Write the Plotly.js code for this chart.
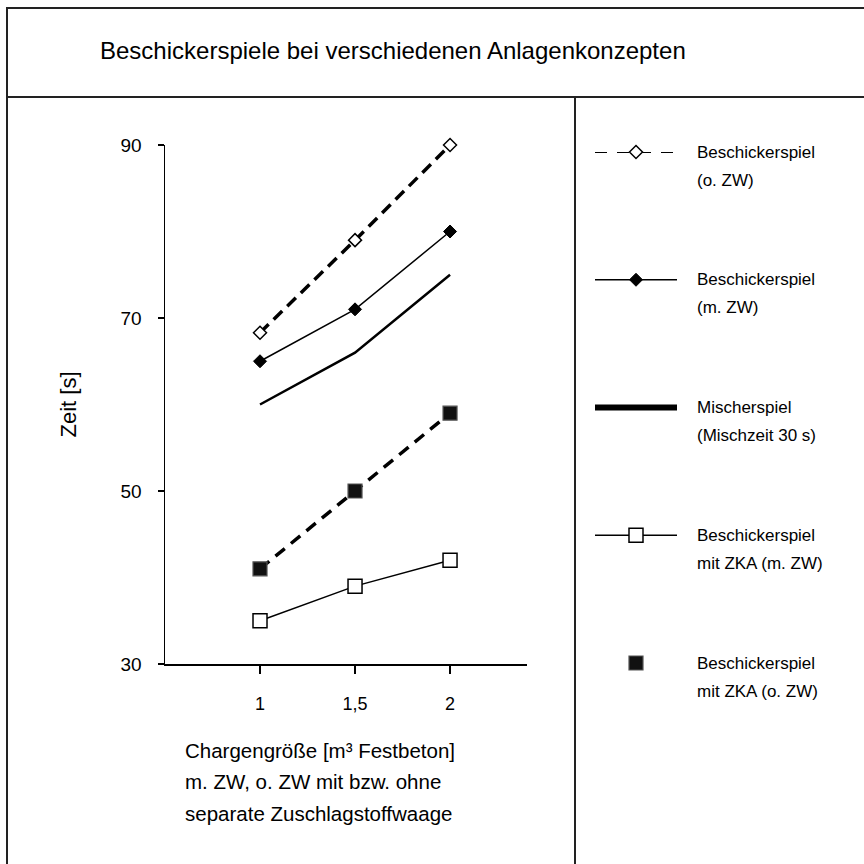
<!DOCTYPE html>
<html>
<head>
<meta charset="utf-8">
<script src="https://cdn.plot.ly/plotly-3.0.1.min.js"></script>
<style>html,body{margin:0;padding:0;background:#fff;}#chart{width:864px;height:864px;}</style>
</head>
<body>
<div id="chart"></div>
<script>
// ---- data ----
const xValues = [1, 1.5, 2];
const xTickText = ['1', '1,5', '2'];
const yTickValues = [30, 50, 70, 90];

const beschickerOhneZW = [68.3, 79, 90];
const beschickerMitZW = [65, 71, 80];
const mischerspiel = [60, 66, 75];
const zkaMitZW = [35, 39, 42];
const zkaOhneZW = [41, 50, 59];

const seriesNames = [
  'Beschickerspiel (o. ZW)',
  'Beschickerspiel (m. ZW)',
  'Mischerspiel (Mischzeit 30 s)',
  'Beschickerspiel mit ZKA (m. ZW)',
  'Beschickerspiel mit ZKA (o. ZW)'
];
const legendLine1 = ['Beschickerspiel', 'Beschickerspiel', 'Mischerspiel', 'Beschickerspiel', 'Beschickerspiel'];
const legendLine2 = ['(o. ZW)', '(m. ZW)', '(Mischzeit 30 s)', 'mit ZKA (m. ZW)', 'mit ZKA (o. ZW)'];

const titleText = 'Beschickerspiele bei verschiedenen Anlagenkonzepten';
const yTitle = 'Zeit [s]';
const xTitleLines = ['Chargengröße [m³ Festbeton]', 'm. ZW, o. ZW mit bzw. ohne', 'separate Zuschlagstoffwaage'];

// ---- layout helpers ----
const W = 864, H = 864;
const px = v => v / W;
const py = v => 1 - v / H;
const FONT = 'Liberation Sans, Arial, Helvetica, sans-serif';
const BLACK = '#000';

const valueSeries = [beschickerOhneZW, beschickerMitZW, mischerspiel, zkaMitZW, zkaOhneZW];
const styles = [
  {mode: 'lines+markers', line: {color: BLACK, width: 3.5, dash: '12px,7px'},
   marker: {symbol: 'diamond', size: 10, color: '#fff', line: {color: BLACK, width: 1.5}}},
  {mode: 'lines+markers', line: {color: BLACK, width: 1.5},
   marker: {symbol: 'diamond', size: 10, color: BLACK, line: {color: BLACK, width: 1}}},
  {mode: 'lines', line: {color: BLACK, width: 2.5}},
  {mode: 'lines+markers', line: {color: BLACK, width: 1.5},
   marker: {symbol: 'square', size: 14, color: '#fff', line: {color: BLACK, width: 1.5}}},
  {mode: 'lines+markers', line: {color: BLACK, width: 3.5, dash: '12px,8px'},
   marker: {symbol: 'square', size: 14, color: '#111', line: {color: '#555', width: 1.2}}}
];
// legend sample styles
const legendLineStyles = [
  {color: BLACK, width: 2, dash: '12px,10px'},
  {color: BLACK, width: 1.5},
  {color: BLACK, width: 6},
  {color: BLACK, width: 1.5},
  null
];
const legendMarkerStyles = [
  {symbol: 'diamond', size: 10, color: '#fff', line: {color: BLACK, width: 1.5}},
  {symbol: 'diamond', size: 10, color: BLACK, line: {color: BLACK, width: 1}},
  null,
  {symbol: 'square', size: 14, color: '#fff', line: {color: BLACK, width: 1.5}},
  {symbol: 'square', size: 14, color: '#111', line: {color: '#555', width: 1.2}}
];

const traces = [];
valueSeries.forEach((vals, i) => {
  traces.push(Object.assign({
    type: 'scatter', x: xValues, y: vals, name: seriesNames[i],
    xaxis: 'x', yaxis: 'y', cliponaxis: false, showlegend: false, hoverinfo: 'x+y+name'
  }, styles[i]));
});

// custom legend glyphs drawn on a hidden helper axis (one row per series)
const legendSampleX = [0, 1];
const legendMarkerX = [0.5];
seriesNames.forEach((name, i) => {
  if (legendLineStyles[i]) {
    traces.push({type: 'scatter', mode: 'lines', x: legendSampleX, y: [i, i],
      xaxis: 'x2', yaxis: 'y2', line: legendLineStyles[i], showlegend: false,
      hoverinfo: 'skip', cliponaxis: false, name: name});
  }
  if (legendMarkerStyles[i]) {
    traces.push({type: 'scatter', mode: 'markers', x: legendMarkerX, y: [i],
      xaxis: 'x2', yaxis: 'y2', marker: legendMarkerStyles[i], showlegend: false,
      hoverinfo: 'skip', cliponaxis: false, name: name});
  }
});

const annotations = [];
seriesNames.forEach((name, i) => {
  annotations.push({xref: 'paper', yref: 'y2', x: px(695), y: i, text: legendLine1[i],
    showarrow: false, xanchor: 'left', yanchor: 'middle', font: {family: FONT, size: 17, color: BLACK}});
  annotations.push({xref: 'paper', yref: 'y2', x: px(695), y: i, yshift: -28, text: legendLine2[i],
    showarrow: false, xanchor: 'left', yanchor: 'middle', font: {family: FONT, size: 17, color: BLACK}});
});
// x-axis title, left aligned in three lines
const xTitleY = [750, 781, 813];
xTitleLines.forEach((t, i) => {
  annotations.push({xref: 'paper', yref: 'paper', x: px(183), y: py(xTitleY[i]), text: t,
    showarrow: false, xanchor: 'left', yanchor: 'middle', font: {family: FONT, size: 20.5, color: BLACK}});
});

const frameColor = '#222';
const shapes = [
  {type: 'rect', xref: 'paper', yref: 'paper', x0: px(7), x1: px(900), y0: py(900), y1: py(8),
   line: {color: frameColor, width: 2}, fillcolor: 'rgba(0,0,0,0)', layer: 'below'},
  {type: 'line', xref: 'paper', yref: 'paper', x0: px(7), x1: px(900), y0: py(97), y1: py(97),
   line: {color: frameColor, width: 2}},
  {type: 'line', xref: 'paper', yref: 'paper', x0: px(575), x1: px(575), y0: py(97), y1: py(900),
   line: {color: frameColor, width: 2}}
];

const layout = {
  width: W, height: H,
  margin: {l: 0, r: 0, t: 0, b: 0, pad: 0},
  paper_bgcolor: '#fff', plot_bgcolor: '#fff',
  font: {family: FONT, color: BLACK},
  showlegend: false,
  title: {text: titleText, xref: 'paper', yref: 'paper', x: px(100), xanchor: 'left',
          y: py(51), yanchor: 'middle', font: {family: FONT, size: 24, color: BLACK}},
  xaxis: {
    domain: [px(165), px(527)], range: [0.5, 2.405], anchor: 'y',
    tickmode: 'array', tickvals: xValues, ticktext: xTickText,
    ticks: 'outside', ticklen: 8, tickwidth: 1.5, tickcolor: BLACK,
    showline: true, linecolor: BLACK, linewidth: 1.5,
    showgrid: false, zeroline: false,
    tickfont: {family: FONT, size: 18, color: BLACK}, ticklabelstandoff: 15
  },
  yaxis: {
    domain: [py(664), py(145)], range: [30, 90], anchor: 'x',
    tickmode: 'array', tickvals: yTickValues,
    ticks: 'outside', ticklen: 6, tickwidth: 1.5, tickcolor: BLACK,
    showline: true, linecolor: BLACK, linewidth: 1.5,
    showgrid: false, zeroline: false,
    tickfont: {family: FONT, size: 19, color: BLACK}, ticklabelstandoff: 12,
    title: {text: yTitle, standoff: 38, font: {family: FONT, size: 22, color: BLACK}}
  },
  xaxis2: {domain: [px(595), px(677)], range: [0, 1], anchor: 'y2', visible: false, fixedrange: true},
  yaxis2: {domain: [py(663), py(152)], range: [4, 0], anchor: 'x2', visible: false, fixedrange: true},
  shapes: shapes,
  annotations: annotations
};

Plotly.newPlot('chart', traces, layout, {staticPlot: true, displayModeBar: false});
</script>
</body>
</html>
